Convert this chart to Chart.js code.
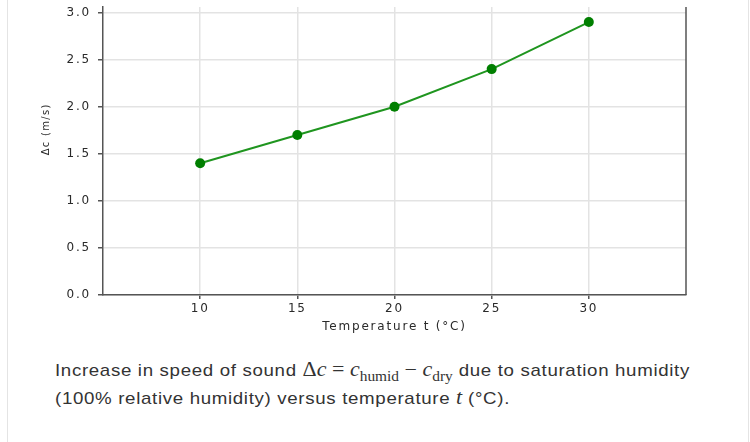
<!DOCTYPE html>
<html>
<head>
<meta charset="utf-8">
<script src="https://cdn.jsdelivr.net/npm/chart.js@4.4.1/dist/chart.umd.min.js"></script>
<style>
  body { margin: 0; background: #fff; }
  #page { position: relative; width: 750px; height: 442px; overflow: hidden; background: #fff; }
  #frame { position: absolute; left: 7px; top: 0; width: 742px; height: 442px; box-sizing: border-box;
           border-left: 1px solid #e4e4e4; border-right: 1px solid #e4e4e4; }
  #chart { position: absolute; left: 0; top: 0; }
  #caption { position: absolute; left: 55px; top: 357px; font-family: "Liberation Sans", Arial, sans-serif;
             font-size: 17px; line-height: 28px; color: #333; letter-spacing: 0.6px; white-space: nowrap;
             transform: scaleX(1.1); transform-origin: left top; }
  .m { font-family: "Liberation Serif", serif; font-size: 20px; line-height: 0; letter-spacing: 0; }
  .m i { font-style: italic; }
  .m sub { font-style: normal; font-size: 14px; vertical-align: -5px; line-height: 0; }
</style>
</head>
<body>
<div id="page">
  <div id="frame"></div>
  <canvas id="chart" width="750" height="350"></canvas>
  <div id="caption">Increase in speed of sound <span class="m">Δ<i>c</i> = <i>c</i><sub>humid</sub> − <i>c</i><sub>dry</sub></span> due to saturation humidity<br>(100% relative humidity) versus temperature <span class="m"><i>t</i></span> (°C).</div>
</div>
<script>
// data
const temps = [10, 15, 20, 25, 30];
const deltaC = [1.4, 1.7, 2.0, 2.4, 2.9];
const xTicks = [10, 15, 20, 25, 30];
const yTicks = [0, 0.5, 1.0, 1.5, 2.0, 2.5, 3.0];
const xTitle = "Temperature t (°C)";
const yTitle = "Δc (m/s)";

const axisColor = "#555";
const gridColor = "#e3e3e3";
const textColor = "#2a2a2a";

// right spine + axis titles (matplotlib look)
const extras = {
  id: "extras",
  beforeUpdate(c) { c.ctx.letterSpacing = "1.8px"; },
  beforeDraw(c) { c.ctx.letterSpacing = "1.8px"; },
  afterDraw(c) {
    const ctx = c.ctx, a = c.chartArea, ys = c.scales.y;
    ctx.save();
    ctx.strokeStyle = axisColor;
    ctx.lineWidth = 1.5;
    ctx.beginPath();
    ctx.moveTo(a.right, a.top);
    ctx.lineTo(a.right, a.bottom);
    ctx.stroke();
    ctx.fillStyle = textColor;
    ctx.font = '12px "DejaVu Sans"';
    ctx.letterSpacing = "1.8px";
    ctx.textAlign = "center";
    ctx.textBaseline = "middle";
    ctx.fillText(xTitle, (a.left + a.right) / 2, a.bottom + 32);
    ctx.translate(46, ys.getPixelForValue(1.76));
    ctx.rotate(-Math.PI / 2);
    ctx.font = '10px "DejaVu Sans"';
    ctx.letterSpacing = "1.3px";
    ctx.fillText(yTitle, 0, 0);
    ctx.restore();
  }
};

const ctx = document.getElementById("chart").getContext("2d");
const chart = new Chart(ctx, {
  type: "line",
  data: {
    datasets: [{
      data: temps.map((t, i) => ({ x: t, y: deltaC[i] })),
      borderColor: "#1f951f",
      borderWidth: 2,
      pointRadius: 5,
      pointBackgroundColor: "#007f00",
      pointBorderWidth: 0,
      tension: 0
    }]
  },
  options: {
    responsive: false,
    animation: false,
    devicePixelRatio: 1,
    layout: { padding: { left: 0, top: 7, right: 64, bottom: 0 } },
    plugins: { legend: { display: false }, tooltip: { enabled: false } },
    scales: {
      x: {
        type: "linear",
        min: 5,
        max: 35,
        afterBuildTicks: s => { s.ticks = xTicks.map(v => ({ value: v })); },
        afterFit: s => { s.height = 55; s.paddingLeft = 0; s.paddingRight = 0; },
        grid: { color: gridColor, lineWidth: 1.5, tickColor: axisColor, tickLength: 4 },
        border: { color: axisColor, width: 1.5 },
        ticks: { color: textColor, font: { family: "DejaVu Sans", size: 12 }, padding: 3, maxRotation: 0, autoSkip: false }
      },
      y: {
        min: 0,
        max: 3.06,
        afterBuildTicks: s => { s.ticks = yTicks.map(v => ({ value: v })); },
        afterFit: s => { s.width = 103; s.paddingTop = 0; s.paddingBottom = 0; },
        grid: { color: gridColor, lineWidth: 1.5, tickColor: axisColor, tickLength: 5 },
        border: { color: axisColor, width: 1.5 },
        ticks: { color: textColor, font: { family: "DejaVu Sans", size: 12 }, padding: 7,
                 callback: v => v.toFixed(1) }
      }
    }
  },
  plugins: [extras]
});
</script>
</body>
</html>
